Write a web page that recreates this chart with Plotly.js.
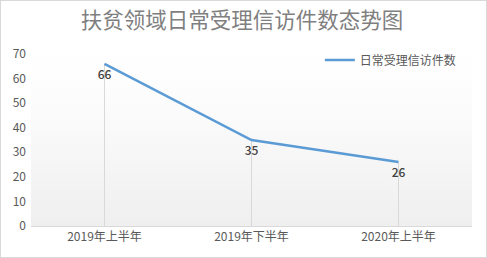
<!DOCTYPE html>
<html><head><meta charset="utf-8">
<script src="https://cdn.plot.ly/plotly-3.0.1.min.js"></script>
<style>
body{margin:0;padding:0;background:#fff;}
#wrap{position:relative;width:487px;height:258px;overflow:hidden;}
#bg{position:absolute;left:31px;top:54px;width:441px;height:172px;background:linear-gradient(#ffffff 0%, #fafafa 40%, #efefef 100%);}
#chart{position:absolute;left:0;top:0;width:487px;height:258px;}
#border{position:absolute;left:0;top:0;width:485px;height:256px;border:1px solid #d9d9d9;pointer-events:none;}
</style></head>
<body>
<div id="wrap"><div id="bg"></div><div id="chart"></div><div id="border"></div></div>
<script>
const categories = ["2019年上半年", "2019年下半年", "2020年上半年"];
const values = [66, 35, 26];
const seriesName = "日常受理信访件数";
const yTicks = [0, 10, 20, 30, 40, 50, 60, 70];
const font = "'Noto Sans CJK SC', 'Microsoft YaHei', sans-serif";

Plotly.newPlot('chart', [{
  x: categories, y: values, name: seriesName,
  type: 'scatter', mode: 'lines+markers+text',
  line: {color: '#5b9bd5', width: 2.5},
  marker: {size: 8, color: 'rgba(0,0,0,0)'},
  text: values.map(String), textposition: 'bottom center',
  textfont: {family: font, size: 12, color: '#404040', weight: 500},
  error_y: {type: 'data', symmetric: false, array: values.map(() => 0), arrayminus: values, color: '#d9d9d9', thickness: 1, width: 0},
  cliponaxis: false
}], {
  width: 487, height: 258,
  margin: {l: 31, r: 15, t: 54, b: 32},
  paper_bgcolor: 'rgba(0,0,0,0)', plot_bgcolor: 'rgba(0,0,0,0)',
  title: {text: '扶贫领域日常受理信访件数态势图', font: {family: font, size: 21.5, color: '#7f7f7f'}, x: 0.497, xanchor: 'center', y: 0.92, yanchor: 'middle'},
  xaxis: {type: 'category', range: [-0.5, 2.5], showgrid: false, zeroline: false, showline: true, linecolor: '#d9d9d9', linewidth: 1,
          ticks: '', tickfont: {family: font, size: 12, color: '#595959'}, fixedrange: true},
  yaxis: {range: [0, 70], tickvals: yTicks, showgrid: false, zeroline: false, showline: false, ticks: '',
          tickfont: {family: font, size: 12, color: '#595959'}, ticklabelstandoff: 4},
  showlegend: true,
  legend: {x: 0.655, xanchor: 'left', y: 0.965, yanchor: 'middle', bgcolor: 'rgba(0,0,0,0)',
           font: {family: font, size: 12, color: '#595959'}}
}, {displayModeBar: false, staticPlot: true});
</script>
</body></html>
